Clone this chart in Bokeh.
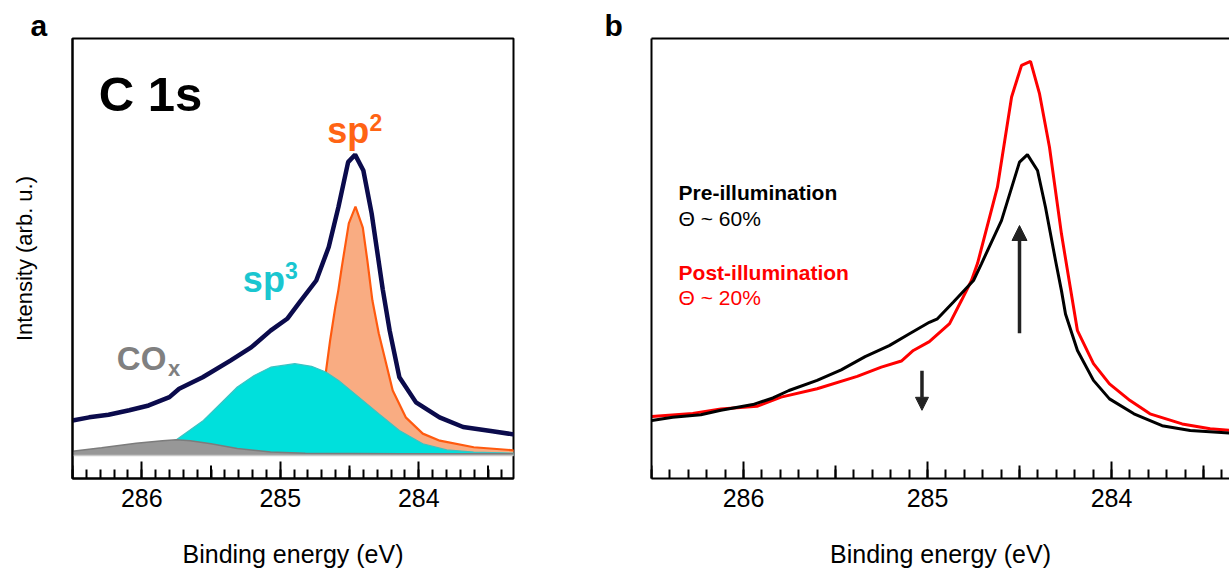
import numpy as np
from bokeh.plotting import figure
from bokeh.layouts import row
from bokeh.models import Range1d, FixedTicker, LinearAxis, Label, Arrow, NormalHead
from bokeh.embed import file_html
from bokeh.resources import INLINE

FONT = "Liberation Sans"

# ---------------- data: panel a (C 1s fit) ----------------
env_ev = [286.50, 286.38, 286.24, 286.09, 285.95, 285.80, 285.73, 285.56, 285.36, 285.21,
          285.07, 284.95, 284.85, 284.74, 284.65, 284.58, 284.51, 284.46, 284.40, 284.34,
          284.26, 284.21, 284.14, 284.02, 283.85, 283.68, 283.48, 283.31]
env_int = [13.2, 13.9, 14.5, 15.5, 16.6, 18.5, 20.4, 23.0, 26.8, 29.8,
           33.6, 36.3, 40.5, 45.0, 52.6, 61.7, 71.9, 73.6, 70.0, 60.2,
           43.0, 33.6, 23.0, 17.3, 13.9, 11.7, 10.8, 10.0]

sp2_ev = [285.20, 285.00, 284.80, 284.671, 284.640, 284.603, 284.581, 284.556, 284.505, 284.457,
          284.404, 284.371, 284.335, 284.289, 284.188, 284.094, 283.971, 283.848, 283.603, 283.31]
sp2_int = [5.6, 7.0, 12.0, 24.1, 31.4, 38.9, 42.7, 48.0, 58.0, 61.8,
           57.0, 49.5, 40.5, 33.0, 20.0, 13.9, 10.2, 8.6, 7.1, 6.4]

sp3_ev = [286.20, 285.95, 285.75, 285.555, 285.432, 285.310, 285.188, 285.069, 284.895, 284.774,
          284.671, 284.579, 284.433, 284.289, 284.140, 283.971, 283.798, 283.603, 283.31]
sp3_int = [5.6, 6.5, 8.8, 13.2, 17.0, 20.8, 23.4, 25.3, 26.1, 25.5,
           24.2, 22.3, 18.5, 14.7, 10.9, 7.9, 6.5, 6.0, 5.75]

cox_ev = [286.50, 286.29, 286.04, 285.85, 285.75, 285.65, 285.50, 285.31, 285.07, 284.82, 284.13, 283.31]
cox_int = [6.2, 7.0, 8.0, 8.6, 8.8, 8.6, 7.9, 6.8, 6.0, 5.75, 5.6, 5.6]

background_level = 5.2

# ---------------- data: panel b (pre / post illumination) ----------------
pre_ev = [286.498, 286.385, 286.232, 286.123, 285.949, 285.840, 285.753, 285.600, 285.469, 285.339,
          285.208, 285.098, 284.990, 284.946, 284.859, 284.750, 284.707, 284.598, 284.500, 284.457,
          284.402, 284.359, 284.304, 284.272, 284.250, 284.185, 284.098, 284.011, 283.878, 283.725,
          283.572, 283.300]
pre_int = [13.2, 13.9, 14.5, 15.5, 16.8, 18.3, 20.0, 22.3, 24.7, 27.7,
           30.2, 32.9, 35.5, 36.3, 40.1, 45.0, 48.8, 58.6, 71.9, 73.6,
           70.0, 61.7, 49.5, 42.7, 37.4, 29.1, 22.3, 18.1, 14.7, 12.0,
           10.9, 10.2]

post_ev = [286.498, 286.276, 286.123, 285.927, 285.796, 285.600, 285.382, 285.251, 285.142, 285.077,
           284.990, 284.880, 284.815, 284.761, 284.728, 284.620, 284.543, 284.489, 284.440, 284.391,
           284.337, 284.272, 284.226, 284.185, 284.098, 284.011, 283.899, 283.791, 283.616, 283.464,
           283.300]
post_int = [14.1, 14.8, 15.8, 16.4, 18.5, 20.4, 23.2, 25.3, 26.7, 29.1,
            31.1, 35.2, 40.5, 45.0, 48.9, 66.2, 86.7, 93.9, 94.8, 87.4,
            75.3, 55.6, 43.9, 33.6, 26.1, 21.5, 17.7, 14.7, 12.4, 11.3,
            10.8]

major_ticks = [286, 285, 284]
half_ticks = [286.5, 285.5, 284.5, 283.5]
minor_ticks = [round(283.3 + 0.1 * i, 1) for i in range(33)]

arrow_up = dict(x=284.5, y0=33.0, y1=57.5)
arrow_down = dict(x=285.03, y0=24.5, y1=15.5)

x_title = "Binding energy (eV)"
y_title = "Intensity (arb. u.)"

FRAME_H = 440.0
Y_MAX = 100.0
TOTAL_H = 571


def setup_bottom_axis(ax):
    ax.ticker = FixedTicker(ticks=major_ticks, minor_ticks=minor_ticks)
    ax.axis_line_width = 2
    ax.axis_line_color = "black"
    ax.major_tick_in = 17
    ax.major_tick_out = 0
    ax.minor_tick_in = 9
    ax.minor_tick_out = 0
    ax.major_tick_line_width = 2
    ax.minor_tick_line_width = 2
    ax.major_tick_line_color = "black"
    ax.minor_tick_line_color = "black"
    ax.major_label_text_font = FONT
    ax.major_label_text_font_size = "25px"
    ax.major_label_text_color = "black"
    ax.major_label_standoff = 10
    ax.axis_label = x_title
    ax.axis_label_text_font = FONT
    ax.axis_label_text_font_size = "25px"
    ax.axis_label_text_font_style = "normal"
    ax.axis_label_text_color = "black"
    ax.axis_label_standoff = 30


def bare_axis(ax):
    ax.ticker = FixedTicker(ticks=[])
    ax.major_label_text_font_size = "0px"
    ax.major_label_standoff = 0
    ax.major_tick_out = 0
    ax.major_tick_in = 0
    ax.minor_tick_out = 0
    ax.minor_tick_in = 0
    ax.minor_tick_line_color = None
    ax.major_tick_line_color = None


def half_tick_marks(p):
    h = 13.0 * Y_MAX / FRAME_H
    p.segment(x0=half_ticks, y0=[0] * len(half_ticks), x1=half_ticks, y1=[h] * len(half_ticks),
              line_color="black", line_width=2)


def lab(p, x, y, text, size, color="black", bold=True, align="left", baseline="alphabetic"):
    p.add_layout(Label(x=x, y=y, text=text, text_font=FONT, text_font_size=size,
                       text_font_style="bold" if bold else "normal", text_color=color,
                       text_align=align, text_baseline=baseline))


def panel_title(p, letter, offset):
    p.title.text = letter
    p.title.align = "left"
    p.title.offset = offset
    p.title.standoff = -6
    p.title.text_font = FONT
    p.title.text_font_size = "30px"
    p.title.text_font_style = "bold"
    p.title.text_color = "black"


# ---------------- panel a ----------------
p1 = figure(width=590, height=TOTAL_H, x_range=Range1d(286.5, 283.316), y_range=Range1d(0, Y_MAX),
            output_backend="svg", toolbar_location=None,
            min_border_left=72, min_border_right=77, min_border_top=38, min_border_bottom=93)
p1.grid.visible = False
p1.outline_line_color = "black"
p1.outline_line_width = 2
p1.background_fill_color = "white"
p1.border_fill_color = "white"
setup_bottom_axis(p1.xaxis[0])
ya = p1.yaxis[0]
bare_axis(ya)
ya.axis_line_width = 2
ya.axis_line_color = "black"
ya.axis_label = y_title
ya.axis_label_text_font = FONT
ya.axis_label_text_font_size = "22px"
ya.axis_label_text_font_style = "normal"
ya.axis_label_text_color = "black"
ya.axis_label_standoff = 36
panel_title(p1, "a", -42)

bg_sp2 = [background_level] * len(sp2_ev)
bg_sp3 = [background_level] * len(sp3_ev)
bg_cox = [background_level] * len(cox_ev)

p1.varea(x=sp2_ev, y1=bg_sp2, y2=sp2_int, fill_color="#F9AC82")
p1.line(sp2_ev, sp2_int, line_color="#FF5A0F", line_width=2.2)
p1.varea(x=sp3_ev, y1=bg_sp3, y2=sp3_int, fill_color="#00E0DC")
p1.line(sp3_ev, sp3_int, line_color="#3CC2C2", line_width=1.2)
p1.varea(x=cox_ev, y1=bg_cox, y2=cox_int, fill_color="#979797")
p1.line(cox_ev, cox_int, line_color="#7C7C7C", line_width=1.5)
p1.line(cox_ev, bg_cox, line_color="#C8C8C8", line_width=1.5)
p1.line(env_ev, env_int, line_color="#0B0B4C", line_width=4.5)
half_tick_marks(p1)

lab(p1, 286.31, 87.5, "C 1s", "49px")
lab(p1, 284.66, 79.1, "sp", "36px", color="#FF6414")
lab(p1, 284.355, 81.0, "2", "23px", color="#FF6414")
lab(p1, 285.27, 45.3, "sp", "36px", color="#1AC6D0")
lab(p1, 284.965, 47.3, "3", "23px", color="#1AC6D0")
lab(p1, 286.18, 27.3, "CO", "33px", color="#808080")
lab(p1, 285.81, 25.0, "x", "22px", color="#808080")

# ---------------- panel b ----------------
p2 = figure(width=639, height=TOTAL_H, x_range=Range1d(286.5, 286.5 - 578.0 / 184.0), y_range=Range1d(0, Y_MAX),
            output_backend="svg", toolbar_location=None,
            min_border_left=61, min_border_right=0, min_border_top=38, min_border_bottom=93)
p2.grid.visible = False
p2.outline_line_color = None
p2.background_fill_color = "white"
p2.border_fill_color = "white"
setup_bottom_axis(p2.below[0])
yb = p2.left[0]
bare_axis(yb)
yb.axis_line_width = 2
yb.axis_line_color = "black"
top_ax = LinearAxis()
bare_axis(top_ax)
top_ax.axis_line_width = 2
top_ax.axis_line_color = "black"
p2.add_layout(top_ax, "above")
panel_title(p2, "b", -47)

p2.line(post_ev, post_int, line_color="#FF0000", line_width=3)
p2.line(pre_ev, pre_int, line_color="#000000", line_width=3)
half_tick_marks(p2)

p2.add_layout(Arrow(end=NormalHead(size=15, fill_color="#222222", line_color="#222222"),
                    x_start=arrow_up["x"], y_start=arrow_up["y0"],
                    x_end=arrow_up["x"], y_end=arrow_up["y1"],
                    line_color="#222222", line_width=3.5))
p2.add_layout(Arrow(end=NormalHead(size=13, fill_color="#222222", line_color="#222222"),
                    x_start=arrow_down["x"], y_start=arrow_down["y0"],
                    x_end=arrow_down["x"], y_end=arrow_down["y1"],
                    line_color="#222222", line_width=3.5))

lab(p2, 286.353, 65.0, "Pre-illumination", "21px")
lab(p2, 286.353, 59.1, "Θ ~ 60%", "21px", bold=False)
lab(p2, 286.353, 46.8, "Post-illumination", "21px", color="#FF0000")
lab(p2, 286.353, 41.1, "Θ ~ 20%", "21px", color="#FF0000", bold=False)

layout = row(p1, p2)
open("out.html", "w").write(file_html(layout, INLINE))
